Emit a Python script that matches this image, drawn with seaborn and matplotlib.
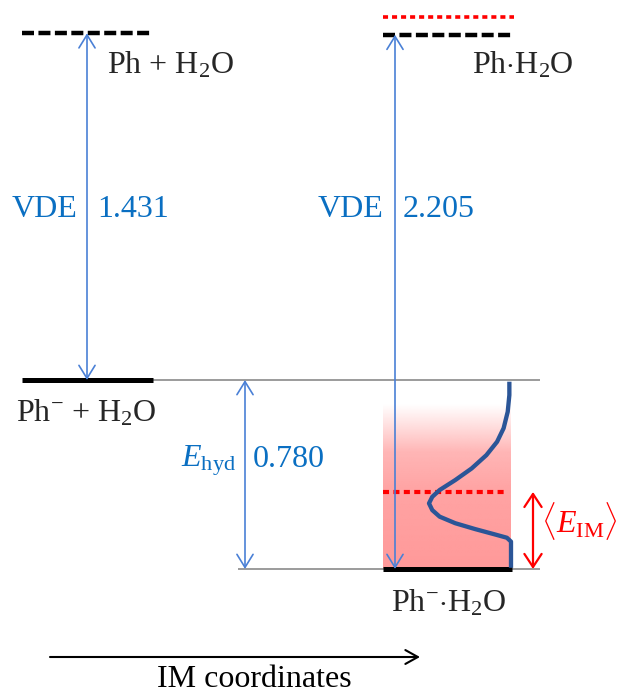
import numpy as np
import pandas as pd
import matplotlib
matplotlib.use("Agg")
import matplotlib.pyplot as plt
import seaborn as sns

# ---- energies (eV), measured from the Ph^-.H2O minimum ----
e_anion_complex = 0.0          # Ph^-.H2O
e_hyd = 0.780                  # hydration energy
vde_free = 1.431               # VDE of Ph^-
vde_complex = 2.205            # VDE of Ph^-.H2O
e_im_mean = 0.318              # <E_IM>
e_neutral_im = 2.28            # neutral level reached from the IM-averaged anion

e_anion = e_anion_complex + e_hyd          # Ph^- + H2O
e_neutral = e_anion + vde_free             # Ph + H2O
e_neutral_complex = e_anion_complex + vde_complex   # Ph.H2O

level_labels = ["Ph + H$_2$O", "Ph$\\cdot$H$_2$O", "Ph$^{-}$ + H$_2$O", "Ph$^{-}$$\\cdot$H$_2$O"]
gap_labels = ["VDE", "1.431", "VDE", "2.205", "$E_{\\mathrm{hyd}}$", "0.780"]

# IM-coordinate distribution (energy vs. relative amplitude)
dist_energy = [0.773, 0.718, 0.649, 0.581, 0.525, 0.470, 0.415, 0.367, 0.326, 0.298,
               0.271, 0.243, 0.216, 0.189, 0.165, 0.143, 0.129, 0.113, 0.058, 0.005]
dist_amp = [0.02, 0.02, 0.04, 0.09, 0.17, 0.30, 0.48, 0.68, 0.87, 0.96,
            1.00, 0.96, 0.87, 0.68, 0.44, 0.20, 0.05, 0.00, 0.00, 0.00]

# ---- style ----
sns.set_theme(style="white")
plt.rcParams["font.family"] = ["Liberation Serif", "DejaVu Serif"]
plt.rcParams["mathtext.fontset"] = "custom"
plt.rcParams["mathtext.rm"] = "Liberation Serif"
plt.rcParams["mathtext.it"] = "Liberation Serif:italic"
plt.rcParams["mathtext.bf"] = "Liberation Serif:bold"

W, H = 618, 695
BASE_PX, PX_PER_EV = 569, 242.3


def yv(px):
    """vertical canvas position (pixels from top) -> energy axis value"""
    return (BASE_PX - px) / PX_PER_EV


fig = plt.figure(figsize=(W / 100, H / 100), dpi=100)
ax = fig.add_axes([0, 0, 1, 1])
ax.set_xlim(0, W)
ax.set_ylim(yv(H), yv(0))
ax.axis("off")

FS = 23
TXT_BLUE = "#0a6fc2"
ARR_BLUE = "#4a80d6"
CURVE_BLUE = "#2b5597"
RED = "#ff0000"

# shaded IM band (fades out towards the upper edge)
top_px = 404
n = 300
rows = np.linspace(top_px, BASE_PX, n)
alpha = np.interp(rows, [top_px, 428, 452, 490, BASE_PX], [0.0, 0.35, 0.72, 0.9, 1.0])
img = np.zeros((n, 1, 4))
img[..., 0] = 1.0
img[..., 1] = 0.60
img[..., 2] = 0.60
img[:, 0, 3] = alpha
ax.imshow(img, extent=[383, 511, e_anion_complex, yv(top_px)], aspect="auto",
          origin="upper", zorder=1, interpolation="bilinear")

# thin reference lines
ax.hlines(e_anion, 153, 540, color="#808080", lw=1.1, zorder=2)
ax.hlines(e_anion_complex, 238, 540, color="#808080", lw=1.1, zorder=2)

# solid anion levels
ax.hlines(e_anion, 22, 153, color="black", lw=3.6, zorder=4)
ax.hlines(e_anion_complex, 383, 512, color="black", lw=3.6, zorder=4)

# dashed neutral levels
for e, x0, x1 in [(e_neutral, 22, 153), (e_neutral_complex, 383, 513)]:
    ln, = ax.plot([x0, x1], [e, e], color="black", lw=3.2, zorder=4,
                  solid_capstyle="butt", dash_capstyle="butt")
    ln.set_dashes([2.7, 1.0])

# red dotted levels
ln, = ax.plot([383, 514], [e_neutral_im, e_neutral_im], color=RED, lw=2.6,
              dash_capstyle="butt", zorder=4)
ln.set_dashes([1.4, 1.1])
ln, = ax.plot([383, 508], [e_im_mean, e_im_mean], color=RED, lw=3.0,
              dash_capstyle="butt", zorder=4)
ln.set_dashes([1.45, 1.05])

# IM distribution curve
dist = pd.DataFrame({"energy": dist_energy, "amp": dist_amp})
dist["x"] = 511 - 82 * dist["amp"]
sns.lineplot(data=dist, x="x", y="energy", sort=False, estimator=None,
             color=CURVE_BLUE, lw=3.1, ax=ax, zorder=5,
             solid_joinstyle="round", solid_capstyle="butt")
ax.set_xlabel("")
ax.set_ylabel("")


def darrow(x, e0, e1, color, lw, hl, hw):
    ax.annotate("", xy=(x, e1), xytext=(x, e0),
                arrowprops=dict(arrowstyle=f"<->,head_length={hl},head_width={hw}",
                                color=color, lw=lw, mutation_scale=20,
                                shrinkA=0, shrinkB=0), zorder=6)


darrow(87, e_anion, e_neutral, ARR_BLUE, 1.2, 0.47, 0.29)
darrow(395, e_anion_complex, e_neutral_complex, ARR_BLUE, 1.2, 0.47, 0.29)
darrow(245, e_anion_complex, e_anion, ARR_BLUE, 1.2, 0.47, 0.29)
darrow(533, e_anion_complex, e_im_mean, RED, 1.6, 0.47, 0.31)

# IM coordinate axis arrow
ax.annotate("", xy=(420, yv(657)), xytext=(50, yv(657)),
            arrowprops=dict(arrowstyle="->,head_length=0.45,head_width=0.25",
                            color="black", lw=1.5, mutation_scale=20,
                            shrinkA=0, shrinkB=0))
ax.text(157, yv(687), "IM coordinates", fontsize=FS, color="black",
        ha="left", va="baseline")

# level labels
ax.text(107, yv(73), level_labels[0], fontsize=FS, ha="left", va="baseline")
ax.text(472, yv(73), level_labels[1], fontsize=FS, ha="left", va="baseline")
ax.text(16, yv(421), level_labels[2], fontsize=FS, ha="left", va="baseline")
ax.text(391, yv(611), level_labels[3], fontsize=FS, ha="left", va="baseline")

# gap labels
ax.text(12, yv(217), gap_labels[0], fontsize=FS, color=TXT_BLUE, ha="left", va="baseline")
ax.text(97, yv(217), gap_labels[1], fontsize=FS, color=TXT_BLUE, ha="left", va="baseline")
ax.text(318, yv(217), gap_labels[2], fontsize=FS, color=TXT_BLUE, ha="left", va="baseline")
ax.text(403, yv(217), gap_labels[3], fontsize=FS, color=TXT_BLUE, ha="left", va="baseline")
ax.text(181, yv(467), gap_labels[4], fontsize=FS, color=TXT_BLUE, ha="left", va="baseline")
ax.text(253, yv(467), gap_labels[5], fontsize=FS, color=TXT_BLUE, ha="left", va="baseline")
ax.text(541, yv(533), r"$\langle E_{\mathrm{IM}}\rangle$", fontsize=FS, color=RED,
        ha="left", va="baseline")

fig.savefig("out.png", dpi=100)
